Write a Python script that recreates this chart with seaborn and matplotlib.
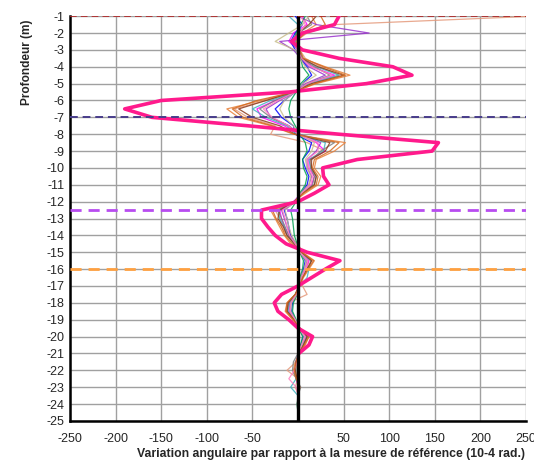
import pandas as pd
import numpy as np
import matplotlib
matplotlib.use('Agg')
import matplotlib.pyplot as plt
import seaborn as sns

sns.set_style('white')
plt.rcParams['font.family'] = ['Liberation Sans', 'DejaVu Sans']
plt.rcParams['axes.unicode_minus'] = False

# ---- data ----
depths = [-1.0, -1.5, -2.0, -2.5, -3.0, -3.5, -4.0, -4.5, -5.0, -5.5, -6.0, -6.5,
          -7.0, -7.5, -8.0, -8.5, -9.0, -9.5, -10.0, -10.5, -11.0, -11.5, -12.0, -12.5,
          -13.0, -13.5, -14.0, -14.5, -15.0, -15.5, -16.0, -16.5, -17.0, -17.5, -18.0, -18.5,
          -19.0, -19.5, -20.0, -20.5, -21.0, -21.5, -22.0, -22.5, -23.0, -23.5, -24.0, -24.5]

thin_series = {
    'A': [15, 20, 5, -5, 0, 5, 30, 57, 20, -5, -40, -78, -65, -30, -5, 52, 40, 20, 18, 25, 22, 8, -5, -30,
          -25, -20, -15, -8, 5, 18, 12, 6, 2, -3, -12, -14, -6, 2, 12, 8, 2, -3, -5, -2, 2, 0, 1, 0],
    'B': [260, 40, 10, -3, 2, 8, 25, 45, 15, -3, -35, -70, -55, -25, -30, 10, 30, 15, 15, 20, 18, 5, -3, -25,
          -20, -18, -12, 0, 5, 12, 10, 5, 5, 10, -10, -12, -5, 2, 10, 6, 1, -2, -12, 0, -3, 1, 0, 0],
    'C': [5, 10, -5, -10, 0, 5, 15, 40, 10, -3, -25, -45, -40, -15, 0, 20, 30, 12, 12, 18, 15, 4, -5, -20,
          -18, -15, -10, -4, 3, 12, 8, 4, 1, -2, -9, -10, -4, 1, 9, 5, 1, -2, -3, -2, 1, 0, 0, 0],
    'D': [0, 20, 78, -20, -5, 3, 12, 30, 8, -2, -20, -35, -30, -10, 2, 25, 20, 10, 10, 15, 12, 3, -4, -18,
          -15, -12, -8, -3, 2, 10, 7, 3, 1, -2, -8, -9, -3, 1, 8, 4, 0, -2, -3, -1, 1, 0, 0, 0],
    'E': [-3, 5, -3, -8, -3, 2, 10, 15, 5, -3, -15, -25, -18, -5, -3, 15, 12, 5, 8, 12, 10, 3, -3, -15,
          -12, -10, -8, -2, 2, 8, 6, 3, 1, -1, -6, -7, -3, 1, 6, 3, 0, -1, -2, -1, 0, 0, 0, 0],
    'F': [8, 3, -2, -5, 0, 3, 5, 12, 3, -2, -8, -10, -8, -3, 2, 8, 10, 5, 6, 10, 8, 2, -2, -8,
          -6, -5, -4, -1, 2, 6, 5, 2, 1, -1, -5, -6, -2, 1, 5, 3, 0, -1, -1, 0, 0, 1, -1, 0],
    'G': [-10, 0, 5, -3, 2, 5, 20, 45, 12, -3, -30, -50, -35, -12, -2, 30, 28, 12, 14, 20, 18, 5, -4, -22,
          -20, -15, -12, -4, 3, 14, 12, 10, 2, -2, -9, -11, -4, 2, 10, 5, 1, -2, -3, -2, -8, 0, 0, 0],
    'H': [10, 15, 0, -8, 0, 3, 18, 35, 10, -3, -25, -42, -30, -10, 0, 40, 25, 15, 14, 18, 16, 5, -4, -22,
          -18, -14, -10, -3, 3, 15, 10, 5, 1, -3, -10, -12, -4, 1, 11, 6, 0, -5, -6, -2, 3, 0, -1, 0],
    'I': [12, 5, -10, -25, -3, 2, 8, 20, 5, -3, -15, -20, -15, -5, 0, 18, 15, 8, 10, 14, 12, 3, -3, -14,
          -12, -10, -7, -2, 2, 9, 7, 3, 1, -1, -7, -8, -3, 1, 7, 4, 0, -1, -2, -1, 1, 0, 0, 0],
    'J': [20, 12, 0, -5, 1, 4, 22, 50, 15, -5, -35, -65, -50, -20, -3, 35, 30, 14, 15, 20, 18, 5, -4, -20,
          -22, -16, -12, -4, 4, 15, 10, 5, 1, -3, -11, -12, -4, 2, 10, 6, 1, -2, -3, -1, 1, 0, 0, 0],
    'K': [3, 8, 2, -6, 0, 4, 14, 38, 10, -3, -22, -38, -28, -10, 0, 22, 22, 10, 12, 16, 14, 4, -3, -17,
          -14, -12, -9, -3, 2, 11, 8, 4, 1, -2, -8, -9, -3, 1, 8, 4, 0, -1, -4, -10, -2, 0, 0, 0],
    'L': [25, 30, 8, -2, 2, 6, 28, 52, 18, -4, -45, -72, -60, -28, -4, 45, 35, 18, 16, 22, 20, 6, -4, -28,
          -24, -18, -14, -6, 4, 17, 11, 5, 2, -3, -12, -13, -5, 2, 12, 7, 1, -2, -4, -2, 2, 0, 0, 0],
}
thin_colors = {
    'A': '#E8803A', 'B': '#E59A7C', 'C': '#FF00FF', 'D': '#9932CC', 'E': '#0000FF', 'F': '#00A050',
    'G': '#40B0C0', 'H': '#7F7F7F', 'I': '#C8BE8C', 'J': '#8B3A1A', 'K': '#FF80C0', 'L': '#D2691E',
}

# thick pink series (stops around -21 m)
pink_depths = depths[:41]
pink_values = [45, 40, 5, -7, 5, 45, 104, 125, 75, -10, -150, -190, -160, -55, 45, 154, 147, 65, 27, 28,
               34, 18, 0, -40, -40, -33, -25, -13, 10, 46, 30, 15, 0, -18, -26, -22, -10, 0, 16, 12, 1]

# reference (zero) line
ref_depths = [-1, -25]
ref_values = [0, 0]

# horizontal marker levels
levels = [-1, -7, -12.5, -16]
level_colors = ['#B22222', '#483D8B', '#B84CF0', '#FFA040']
level_widths = [1.2, 1.4, 2.0, 2.0]

x_ticks = [-250, -200, -150, -100, -50, 50, 100, 150, 200, 250]

rows = []
for name, vals in thin_series.items():
    for d, v in zip(depths, vals):
        rows.append({'serie': name, 'depth': d, 'value': v})
df = pd.DataFrame(rows)

fig = plt.figure(figsize=(5.34, 4.62), dpi=100)
ax = fig.add_axes([0.131, 0.089, 0.854, 0.876])

# grid
ax.set_xticks(np.arange(-250, 251, 50), minor=True)
ax.set_yticks(np.arange(-25, 0, 1))
ax.grid(True, which='both', color='#A0A0A0', lw=1.0)
ax.set_axisbelow(True)

sns.lineplot(data=df, x='value', y='depth', hue='serie', palette=thin_colors, sort=False,
             estimator=None, lw=0.9, alpha=0.85, legend=False, ax=ax)
sns.lineplot(x=pink_values, y=pink_depths, sort=False, estimator=None, color='#FF1A8C', lw=2.6, ax=ax)
sns.lineplot(x=ref_values, y=ref_depths, sort=False, estimator=None, color='black', lw=2.4, ax=ax)

for lv, c, w in zip(levels, level_colors, level_widths):
    ax.axhline(lv, color=c, lw=w, ls=(0, (4, 2.5)), zorder=3)

ax.set_xlim(-250, 250)
ax.set_ylim(-25, -1)
ax.set_xticks(x_ticks)
ax.set_xticklabels([str(t) for t in x_ticks])
ax.set_yticklabels([str(t) for t in range(-25, 0)])
ax.tick_params(axis='both', labelsize=9, length=0)
ax.tick_params(axis='x', pad=9)
ax.tick_params(axis='y', pad=4)

for s in ['top', 'right']:
    ax.spines[s].set_visible(False)
for s in ['left', 'bottom']:
    ax.spines[s].set_color('black')
    ax.spines[s].set_linewidth(1.8)

ax.set_ylabel('Profondeur (m)', fontsize=8.6, fontweight='bold')
ax.yaxis.set_label_coords(-0.08, 0.885)
ax.set_xlabel('Variation angulaire par rapport à la mesure de référence (10-4 rad.)',
              fontsize=8.8, fontweight='bold')
ax.xaxis.set_label_coords(0.572, -0.068)

plt.savefig('out.png', dpi=100)
plt.close()
